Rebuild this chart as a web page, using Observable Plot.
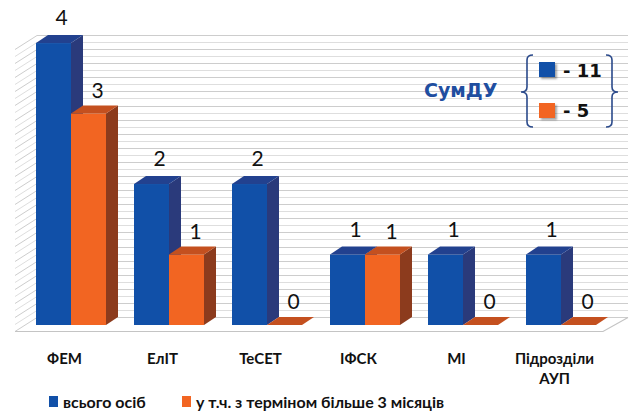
<!DOCTYPE html>
<html><head><meta charset="utf-8">
<script src="https://cdn.jsdelivr.net/npm/d3@7"></script>
<script src="https://cdn.jsdelivr.net/npm/@observablehq/plot@0.6"></script>
<style>
html,body{margin:0;padding:0;background:#fff;}
#wrap{position:relative;width:629px;height:412px;overflow:hidden;}
#legend{position:absolute;left:0;top:390px;height:22px;display:flex;align-items:center;font-family:Lato,"Open Sans",sans-serif;font-weight:700;font-size:16px;color:#111;}
#legend .sw{display:inline-block;width:9px;height:11px;margin-right:5px;}
#legend .item{display:flex;align-items:center;position:absolute;white-space:nowrap;}
#sum{position:absolute;left:0;top:0;width:629px;height:150px;pointer-events:none;}
#sum .lbl{position:absolute;font-family:"DejaVu Sans",Verdana,sans-serif;font-weight:700;}
#sum .sq{position:absolute;width:16px;height:15px;box-shadow:2px 2px 2px rgba(0,0,0,0.35);}
</style>
</head><body>
<div id="wrap"><div id="chart"></div><div id="sum"></div><div id="legend"></div></div>
<script>
const categories = ["ФЕМ", "ЕлІТ", "ТеСЕТ", "ІФСК", "МІ", "Підрозділи АУП"];
const tickLabels = ["ФЕМ", "ЕлІТ", "ТеСЕТ", "ІФСК", "МІ", "Підрозділи\nАУП"];
const seriesNames = ["всього осіб", "у т.ч. з терміном більше 3 місяців"];
const totalValues = [4, 2, 2, 1, 1, 1];
const longTermValues = [3, 1, 0, 1, 0, 0];
const summaryTitle = "СумДУ";
const summaryValues = [11, 5];
const frontColors = ["#1150A8", "#F26522"];
const topColors = ["#22418F", "#C4501F"];
const sideColors = ["#2A3A7B", "#8C3B1D"];
const gridValues = d3.range(0, 41).map(i => i / 10);

const rows = categories.flatMap((c, i) => [
  {cat: c, s: 0, v: totalValues[i]},
  {cat: c, s: 1, v: longTermValues[i]}
]);

const BDX = 12, BDY = 8; // bar depth
const WDX = 22, WDY = 14; // floor depth

function walls(index, scales, values, dims) {
  const g = d3.create("svg:g");
  const y0 = scales.y(0);
  const frontL = dims.marginLeft - 6, backL = frontL + WDX;
  const backR = dims.width - 1, frontR = backR - WDX - 3;
  for (const i of index) {
    const yy = Math.round(values.y[i] - BDY) + 0.5;
    const col = i % 2 === 0 ? "#cdcdcd" : "#dedede";
    g.append("line").attr("x1", backL).attr("x2", backR).attr("y1", yy).attr("y2", yy).attr("stroke", col);
    g.append("line").attr("x1", backL).attr("x2", frontL).attr("y1", yy).attr("y2", yy + WDY).attr("stroke", col);
  }
  const yb = Math.round(y0 - BDY) + 0.5, yf = yb + WDY;
  g.append("path")
    .attr("d", `M${frontL},${yf}L${frontR},${yf}L${backR},${yb}`)
    .attr("fill", "none").attr("stroke", "#c4c4c4").attr("stroke-width", 1.2);
  return g.node();
}

function bars3d(index, scales, values, dims, ctx, next) {
  const base = next(index, scales, values, dims, ctx);
  const out = d3.create("svg:g");
  for (const r of base.querySelectorAll("rect")) {
    const i = r.__data__;
    const s = rows[i].s;
    const bx = +r.getAttribute("x"), bw = +r.getAttribute("width");
    const y = +r.getAttribute("y"), h = +(r.getAttribute("height") || 0);
    const x1 = s === 0 ? bx : bx + bw / 2, x2 = s === 0 ? bx + bw / 2 : bx + bw;
    const yt = y, yb = y + h;
    out.append("rect").attr("x", x1).attr("y", yt).attr("width", x2 - x1).attr("height", h).attr("fill", frontColors[s]);
    out.append("path").attr("d", `M${x2},${yt}L${x2 + BDX},${yt - BDY}L${x2 + BDX},${yb - BDY}L${x2},${yb}Z`).attr("fill", sideColors[s]);
    out.append("path").attr("d", `M${x1},${yt}L${x2},${yt}L${x2 + BDX},${yt - BDY}L${x1 + BDX},${yt - BDY}Z`).attr("fill", topColors[s]);
  }
  return out.node();
}

const labelFont = {fontSize: 21, fontFamily: "Lato, sans-serif", fill: "#111"};

const chart = Plot.plot({
  width: 629,
  height: 390,
  marginLeft: 21,
  marginRight: 19,
  marginTop: 36,
  marginBottom: 65,
  style: {background: "#fff", overflow: "visible"},
  x: {domain: categories, paddingInner: 0.287, paddingOuter: 0.1435, axis: null},
  y: {domain: [0, 4.1], axis: null},
  marks: [
    Plot.ruleY(gridValues, {y: d => d, render: walls}),
    Plot.barY(rows, {x: "cat", y1: 0, y2: "v", render: bars3d}),
    Plot.text(rows.filter(d => d.s === 0), {x: "cat", y: "v", text: d => String(d.v), dx: -10, dy: -25, ...labelFont}),
    Plot.text(rows.filter(d => d.s === 1), {x: "cat", y: "v", text: d => String(d.v), dx: 26, dy: -23, ...labelFont}),
    Plot.text(categories, {x: d => d, frameAnchor: "bottom", text: (d, i) => tickLabels[i], dx: -7, dy: 24, lineAnchor: "top", lineHeight: 1.35, fontSize: 15, fontWeight: "bold", fontFamily: "Lato, sans-serif", fill: "#111"})
  ]
});
document.getElementById("chart").appendChild(chart);

// bottom legend
const legend = document.getElementById("legend");
const legendX = [49, 182];
seriesNames.forEach((n, i) => {
  const it = document.createElement("div");
  it.className = "item";
  it.style.left = legendX[i] + "px";
  it.innerHTML = `<span class="sw" style="background:${frontColors[i]}"></span><span>${n}</span>`;
  legend.appendChild(it);
});

// summary box
const sum = document.getElementById("sum");
sum.innerHTML = `
<svg width="629" height="150" style="position:absolute;left:0;top:0">
  <path d="M533,55 Q527,55 527,60 L527,87 Q527,92 521,92 Q527,92 527,97 L527,122 Q527,127 533,127" fill="none" stroke="#2B4A8B" stroke-width="1.6"/>
  <path d="M606,55 Q612,55 612,60 L612,87 Q612,92 618,92 Q612,92 612,97 L612,122 Q612,127 606,127" fill="none" stroke="#2B4A8B" stroke-width="1.6"/>
</svg>
<div class="lbl" style="left:424px;top:79px;font-size:19px;color:#1F4EA0">${summaryTitle}</div>
<div class="sq" style="left:539px;top:62px;background:${frontColors[0]}"></div>
<div class="lbl" style="left:563px;top:60px;font-size:18px;color:#111">- ${summaryValues[0]}</div>
<div class="sq" style="left:539px;top:103px;background:${frontColors[1]}"></div>
<div class="lbl" style="left:563px;top:100px;font-size:18px;color:#111">- ${summaryValues[1]}</div>
`;
</script>
</body></html>
